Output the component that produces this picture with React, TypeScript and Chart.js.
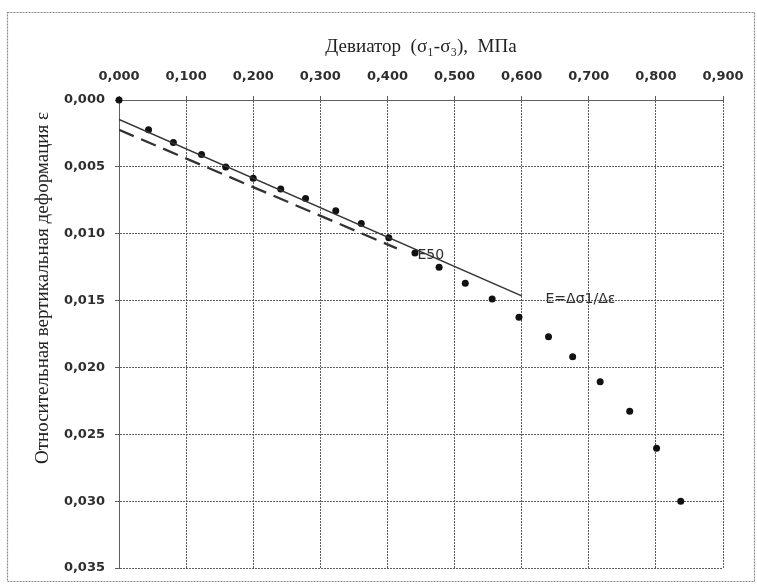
import React, { useEffect, useRef } from 'react';
import { Chart, registerables } from 'chart.js';

Chart.register(...registerables);

// Measured points: deviator (MPa) and relative vertical strain
const deviator = [0, 0.044, 0.081, 0.123, 0.159, 0.200, 0.241, 0.278, 0.323, 0.361, 0.402, 0.441, 0.477, 0.516, 0.556, 0.596, 0.640, 0.676, 0.717, 0.761, 0.801, 0.837];
const strain = [0, 0.00223, 0.00318, 0.00407, 0.00501, 0.00586, 0.00665, 0.00737, 0.00829, 0.00923, 0.0103, 0.01145, 0.0125, 0.0137, 0.01488, 0.01624, 0.0177, 0.0192, 0.02108, 0.02328, 0.02605, 0.0300];

// Solid line E = Δσ1/Δε
const modulusLineX = [0, 0.6];
const modulusLineY = [0.00145, 0.01465];

// Dashed line E50
const e50LineX = [0, 0.414];
const e50LineY = [0.00223, 0.0111];

const xTicks = [0, 0.1, 0.2, 0.3, 0.4, 0.5, 0.6, 0.7, 0.8, 0.9];
const yTicks = [0, 0.005, 0.01, 0.015, 0.02, 0.025, 0.03, 0.035];

const xTitle = 'Девиатор  (σ₁-σ₃),  МПа';
const yTitle = 'Относительная вертикальная деформация ε';

const labelTexts = ['E50', 'E=Δσ1/Δε'];
const labelX = [0.4446, 0.6355];
const labelY = [0.0116, 0.0149];

const fmt = (v: any) => Number(v).toFixed(3).replace('.', ',');

const decorPlugin = {
  id: 'decor',
  beforeDraw(chart: any) {
    const { ctx } = chart;
    ctx.save();
    ctx.strokeStyle = '#8a8a8a';
    ctx.lineWidth = 1.2;
    ctx.setLineDash([2, 1]);
    ctx.strokeRect(7.5, 12.5, 747, 569);
    ctx.restore();
  },
  afterDatasetsDraw(chart: any) {
    const { ctx, scales } = chart;
    ctx.save();
    ctx.fillStyle = '#2e2e2e';
    ctx.font = '14px "DejaVu Sans"';
    ctx.textAlign = 'left';
    ctx.textBaseline = 'middle';
    labelTexts.forEach((t, i) => {
      ctx.fillText(t, scales.x.getPixelForValue(labelX[i]), scales.y.getPixelForValue(labelY[i]));
    });
    ctx.restore();
  },
  afterDraw(chart: any) {
    const { ctx, chartArea } = chart;
    ctx.save();
    ctx.fillStyle = '#222';
    ctx.font = '19px "Liberation Serif"';
    ctx.translate(43, chartArea.top + 12);
    ctx.rotate(-Math.PI / 2);
    ctx.textAlign = 'right';
    ctx.textBaseline = 'middle';
    ctx.fillText(yTitle, 0, 0);
    ctx.restore();
  },
};

export default function App() {
  const ref = useRef<HTMLCanvasElement>(null);

  useEffect(() => {
    if (!ref.current) return;
    const tickFont = { family: '"DejaVu Sans"', size: 13, weight: 'bold' as const };
    const chart = new Chart(ref.current, {
      type: 'scatter',
      data: {
        datasets: [
          {
            label: 'modulus',
            data: modulusLineX.map((x, i) => ({ x, y: modulusLineY[i] })),
            showLine: true,
            borderColor: '#333',
            borderWidth: 1.6,
            pointRadius: 0,
          },
          {
            label: 'E50',
            data: e50LineX.map((x, i) => ({ x, y: e50LineY[i] })),
            showLine: true,
            borderColor: '#333',
            borderWidth: 2.3,
            borderDash: [16, 8],
            pointRadius: 0,
          },
          {
            label: 'points',
            data: deviator.map((x, i) => ({ x, y: strain[i] })),
            showLine: false,
            clip: false,
            pointRadius: 3.5,
            pointBackgroundColor: '#111',
            pointBorderWidth: 0,
            backgroundColor: '#111',
          },
        ],
      },
      options: {
        animation: false,
        responsive: false,
        layout: { padding: { left: 0, top: 0, right: 34, bottom: 19 } },
        plugins: { legend: { display: false }, tooltip: { enabled: false } },
        scales: {
          x: {
            type: 'linear',
            position: 'top',
            min: 0,
            max: 0.9,
            afterBuildTicks: (s: any) => { s.ticks = xTicks.map((v) => ({ value: v })); },
            afterFit: (s: any) => { s.height = 100; },
            ticks: { font: tickFont, color: '#2e2e2e', padding: 12, callback: fmt, maxRotation: 0, autoSkip: false },
            grid: { color: '#5e5e5e', lineWidth: 1, tickLength: 4 },
            border: { display: true, color: '#5e5e5e', width: 1, dash: [2, 1] },
            title: {
              display: true,
              text: xTitle,
              color: '#222',
              font: { family: '"Liberation Serif"', size: 19 },
              padding: { top: 36, bottom: 0 },
            },
          },
          y: {
            type: 'linear',
            reverse: true,
            min: 0,
            max: 0.035,
            afterBuildTicks: (s: any) => { s.ticks = yTicks.map((v) => ({ value: v })); },
            afterFit: (s: any) => { s.width = 119; },
            ticks: { font: tickFont, color: '#2e2e2e', padding: 10, callback: fmt, autoSkip: false },
            grid: { color: '#5e5e5e', lineWidth: 1, tickLength: 4 },
            border: { display: true, color: '#5e5e5e', width: 1, dash: [2, 1] },
          },
        },
      },
      plugins: [decorPlugin],
    });
    return () => chart.destroy();
  }, []);

  return (
    <div style={{ position: 'fixed', left: 0, top: 0, width: 757, height: 587, background: '#fff' }}>
      <canvas ref={ref} width={757} height={587} style={{ display: 'block' }} />
    </div>
  );
}
